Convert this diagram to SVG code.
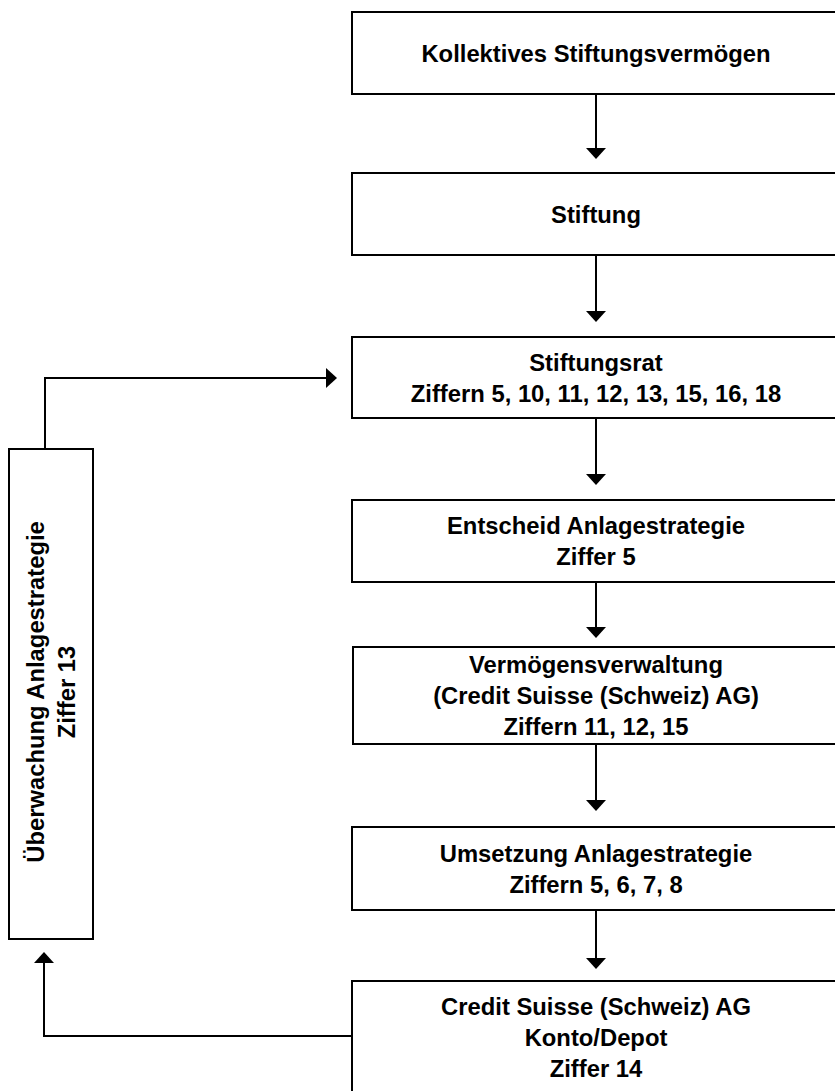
<svg xmlns="http://www.w3.org/2000/svg" width="835" height="1091" viewBox="0 0 835 1091">
  <style>
    .box { fill: #ffffff; stroke: #000000; stroke-width: 2; }
    .lbl { font-family: "Liberation Sans", Arial, sans-serif; font-weight: bold; font-size: 23.8px; fill: #000000; text-anchor: middle; }
    .conn { fill: none; stroke: #000000; stroke-width: 2; }
  </style>
  <defs>
    <marker id="arrow" viewBox="0 0 11 20" refX="0" refY="10" markerWidth="11" markerHeight="20" markerUnits="userSpaceOnUse" orient="auto">
      <path d="M0,0 L11,10 L0,20 Z" fill="#000000"/>
    </marker>
  </defs>
  <rect x="0" y="0" width="835" height="1091" fill="#ffffff"/>

  <g id="connectors">
    <path class="conn" d="M596,94 V148" marker-end="url(#arrow)"/>
    <path class="conn" d="M596,255 V311" marker-end="url(#arrow)"/>
    <path class="conn" d="M596,418 V474" marker-end="url(#arrow)"/>
    <path class="conn" d="M596,582 V627" marker-end="url(#arrow)"/>
    <path class="conn" d="M596,744 V800" marker-end="url(#arrow)"/>
    <path class="conn" d="M596,910 V958" marker-end="url(#arrow)"/>
    <path class="conn" d="M352,1036 H44 V963" marker-end="url(#arrow)"/>
    <path class="conn" d="M45,449 V378 H326" marker-end="url(#arrow)"/>
  </g>

  <g id="node-kollektives">
    <rect class="box" x="352" y="12" width="488" height="82"/>
    <text class="lbl" x="596" y="61.6">Kollektives Stiftungsvermögen</text>
  </g>
  <g id="node-stiftung">
    <rect class="box" x="352" y="173" width="488" height="82"/>
    <text class="lbl" x="596" y="222.6">Stiftung</text>
  </g>
  <g id="node-stiftungsrat">
    <rect class="box" x="352" y="337" width="488" height="81"/>
    <text class="lbl" x="596" y="370.6">Stiftungsrat</text>
    <text class="lbl" x="596" y="401.6">Ziffern 5, 10, 11, 12, 13, 15, 16, 18</text>
  </g>
  <g id="node-entscheid">
    <rect class="box" x="352" y="500" width="488" height="82"/>
    <text class="lbl" x="596" y="534.1">Entscheid Anlagestrategie</text>
    <text class="lbl" x="596" y="565.1">Ziffer 5</text>
  </g>
  <g id="node-vermoegensverwaltung">
    <rect class="box" x="353" y="647" width="488" height="97"/>
    <text class="lbl" x="596" y="673.1">Vermögensverwaltung</text>
    <text class="lbl" x="596" y="704.1">(Credit Suisse (Schweiz) AG)</text>
    <text class="lbl" x="596" y="735.1">Ziffern 11, 12, 15</text>
  </g>
  <g id="node-umsetzung">
    <rect class="box" x="352" y="827" width="488" height="83"/>
    <text class="lbl" x="596" y="861.6">Umsetzung Anlagestrategie</text>
    <text class="lbl" x="596" y="892.6">Ziffern 5, 6, 7, 8</text>
  </g>
  <g id="node-credit-suisse">
    <rect class="box" x="352" y="981" width="488" height="120"/>
    <text class="lbl" x="596" y="1015">Credit Suisse (Schweiz) AG</text>
    <text class="lbl" x="596" y="1046">Konto/Depot</text>
    <text class="lbl" x="596" y="1077">Ziffer 14</text>
  </g>
  <g id="node-ueberwachung">
    <rect class="box" x="9" y="449" width="84" height="490"/>
    <text class="lbl" transform="translate(51,692) rotate(-90)" x="0" y="-6.9">Überwachung Anlagestrategie</text>
    <text class="lbl" transform="translate(51,692) rotate(-90)" x="0" y="24.1">Ziffer 13</text>
  </g>
</svg>
